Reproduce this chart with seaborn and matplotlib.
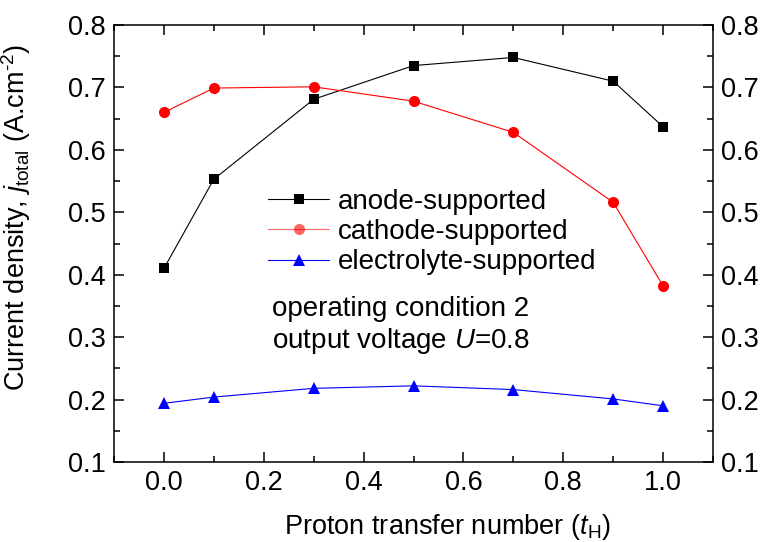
import matplotlib
matplotlib.use("Agg")
import matplotlib.pyplot as plt
import seaborn as sns
import pandas as pd

t_H = [0.0, 0.1, 0.3, 0.5, 0.7, 0.9, 1.0]
anode = [0.410, 0.553, 0.681, 0.735, 0.748, 0.710, 0.637]
cathode = [0.660, 0.699, 0.701, 0.678, 0.628, 0.516, 0.382]
electrolyte = [0.194, 0.204, 0.218, 0.222, 0.216, 0.201, 0.190]
labels = ["anode-supported", "cathode-supported", "electrolyte-supported"]
x_ticks = [0.0, 0.2, 0.4, 0.6, 0.8, 1.0]
y_ticks = [0.1, 0.2, 0.3, 0.4, 0.5, 0.6, 0.7, 0.8]

sns.set_style("ticks")
plt.rcParams['font.family'] = ['Liberation Sans', 'DejaVu Sans']
plt.rcParams['mathtext.fontset'] = 'custom'
plt.rcParams['mathtext.rm'] = 'Liberation Sans'
plt.rcParams['mathtext.it'] = 'Liberation Sans:italic'
plt.rcParams['mathtext.bf'] = 'Liberation Sans:bold'
plt.rcParams['text.color'] = 'black'
plt.rcParams['axes.labelcolor'] = 'black'

W, H = 764, 542
fig = plt.figure(figsize=(W/100, H/100), dpi=100)
L, R, T, B = 114, 713, 25, 462
ax = fig.add_axes([L/W, 1-B/H, (R-L)/W, (B-T)/H])

series = [anode, cathode, electrolyte]
colors = ["black", "red", "blue"]
markers = ["s", "o", "^"]
msizes = [6.8, 8, 8.5]
for vals, lab, c, m, ms in zip(series, labels, colors, markers, msizes):
    df = pd.DataFrame({"x": t_H, "y": vals})
    sns.lineplot(data=df, x="x", y="y", ax=ax, color=c, marker=m,
                 markersize=ms, markeredgewidth=0, linewidth=0.8, label=lab)

ax.set_xlim(-0.1, 1.1)
ax.set_ylim(0.1, 0.8)
ax.set_xticks(x_ticks)
ax.set_xticklabels([f"{v:.1f}" for v in x_ticks])
ax.set_yticks(y_ticks)
ax.set_yticklabels([f"{v:.1f}" for v in y_ticks])
ax.set_xticks([-0.1 + 0.1*i for i in range(13)], minor=True)
ax.set_yticks([0.15 + 0.1*i for i in range(7)], minor=True)
ax.tick_params(which='both', direction='in', top=True, right=True,
               labelright=True, labelsize=19.5, width=1.1, colors='black')
ax.tick_params(which='major', length=7)
ax.tick_params(which='minor', length=4.3)
ax.tick_params(axis='y', which='both', pad=6)
ax.tick_params(axis='x', which='both', pad=6)
for s in ax.spines.values():
    s.set_linewidth(1.1)
    s.set_color('black')

ax.set_xlabel(r"Proton transfer number ($t_{\mathrm{H}}$)", fontsize=19.5)
ax.xaxis.set_label_coords(0.556, -0.115)
ax.set_ylabel(r"Current density, $j_{\mathrm{total}}$ (A.cm$^{\text{-2}}$)", fontsize=19.5)
ax.yaxis.set_label_coords(-0.135, 0.56)

leg = ax.legend(loc='upper left', bbox_to_anchor=(268/W, 1-189/H),
                bbox_transform=fig.transFigure, frameon=False, fontsize=20,
                handlelength=2.2, handletextpad=0.3, labelspacing=0.15,
                borderpad=0, borderaxespad=0)
leg.get_lines()[1].set_alpha(0.6)
for t in leg.get_texts():
    t.set_color('black')

fig.text(272/W, 1-309/H, "operating condition 2", fontsize=20, va='center', ha='left')
fig.text(272/W, 1-341/H, r"output voltage $U$=0.8", fontsize=20, va='center', ha='left')

fig.savefig("out.png", dpi=100)
